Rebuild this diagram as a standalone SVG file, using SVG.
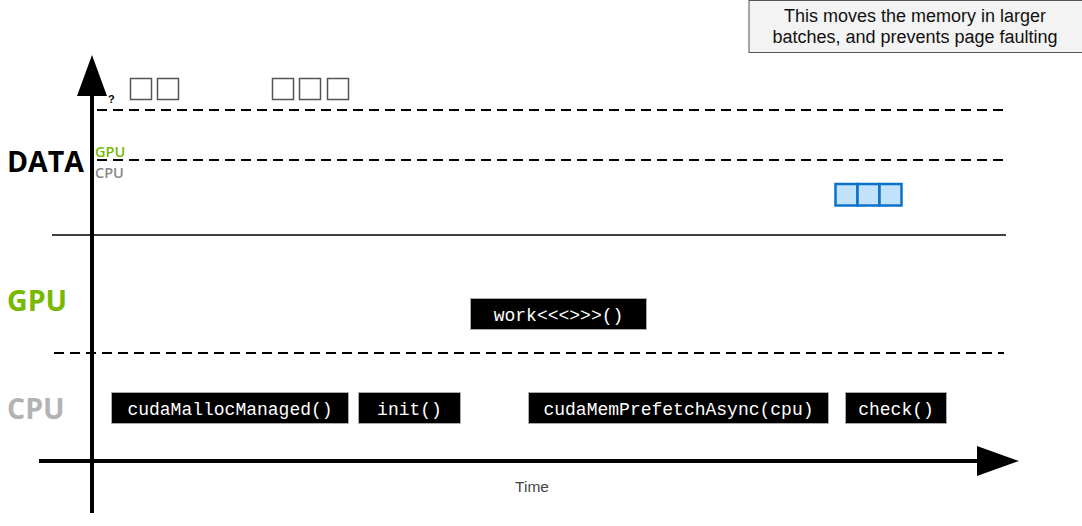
<svg xmlns="http://www.w3.org/2000/svg" width="1082" height="526" viewBox="0 0 1082 526">
<style>
.dash{stroke:#000;stroke-width:2;stroke-dasharray:10,6;fill:none}
.fn rect{fill:#000;stroke:#aaa;stroke-width:1}
.fn text{font-family:"Liberation Mono",monospace;font-size:18px;fill:#fff;text-anchor:middle}
.sq{fill:#fff;stroke:#555;stroke-width:1.5}
.bsq{fill:#c2e2fb;stroke:#0a72c8;stroke-width:2.5}
.big{font-family:"Open Sans","DejaVu Sans",sans-serif;font-weight:bold;font-size:28.5px}
.small{font-family:"Open Sans","DejaVu Sans",sans-serif;font-size:14.5px;font-weight:600}
</style>
<rect width="1082" height="526" fill="#fff"/>
<g id="connectors">
<line class="dash" x1="97" y1="110" x2="1006" y2="110"/>
<line class="dash" x1="97" y1="160" x2="1006" y2="160"/>
<line x1="52" y1="235" x2="1006" y2="235" stroke="#000" stroke-width="1.5"/>
<line class="dash" x1="54" y1="353" x2="1004" y2="353"/>
<line x1="92" y1="513" x2="92" y2="90" stroke="#000" stroke-width="4"/>
<polygon points="92,55 107,96 77,96" fill="#000"/>
<line x1="39" y1="461" x2="980" y2="461" stroke="#000" stroke-width="4"/>
<polygon points="1019,461 977,446 977,476" fill="#000"/>
</g>
<g id="labels">
<text class="big" x="7" y="172" fill="#000">DATA</text>
<text class="small" x="95" y="157" fill="#76b900">GPU</text>
<text class="small" x="95" y="178" fill="#888">CPU</text>
<text class="big" x="7" y="311" fill="#76b900">GPU</text>
<text class="big" x="7" y="419" fill="#b3b3b3">CPU</text>
<text x="108" y="103" font-family="'Liberation Sans',sans-serif" font-size="11" font-weight="bold">?</text>
<text x="532" y="492" font-family="'Liberation Sans',sans-serif" font-size="15.5" fill="#444" text-anchor="middle">Time</text>
</g>
<g id="pages-cpu">
<rect class="sq" x="130.5" y="78.5" width="21" height="21"/>
<rect class="sq" x="157.5" y="78.5" width="21" height="21"/>
<rect class="sq" x="272.5" y="78.5" width="21" height="21"/>
<rect class="sq" x="299.5" y="78.5" width="21" height="21"/>
<rect class="sq" x="327.5" y="78.5" width="21" height="21"/>
</g>
<g id="pages-prefetched">
<rect class="bsq" x="835.5" y="184" width="22" height="21.5"/>
<rect class="bsq" x="857.5" y="184" width="22" height="21.5"/>
<rect class="bsq" x="879.5" y="184" width="22" height="21.5"/>
</g>
<g id="note">
<rect x="749" y="0.5" width="340" height="52" fill="#f3f3f3" stroke="#555" stroke-width="1"/>
<text font-family="'Liberation Sans',Arial,sans-serif" font-size="18" fill="#111" text-anchor="middle"><tspan x="915" y="22">This moves the memory in larger</tspan><tspan x="915" y="43">batches, and prevents page faulting</tspan></text>
</g>
<g id="cudaMallocManaged" class="fn"><rect x="111.5" y="392.5" width="237" height="31"/><text x="230" y="415">cudaMallocManaged()</text></g>
<g id="init" class="fn"><rect x="358.5" y="392.5" width="102" height="31"/><text x="409.5" y="415">init()</text></g>
<g id="work" class="fn"><rect x="470.5" y="298.5" width="176" height="31"/><text x="558.5" y="321">work&lt;&lt;&lt;&gt;&gt;&gt;()</text></g>
<g id="cudaMemPrefetchAsync" class="fn"><rect x="528.5" y="392.5" width="300" height="31"/><text x="678.5" y="415">cudaMemPrefetchAsync(cpu)</text></g>
<g id="check" class="fn"><rect x="845.5" y="392.5" width="101" height="31"/><text x="896" y="415">check()</text></g>
</svg>
